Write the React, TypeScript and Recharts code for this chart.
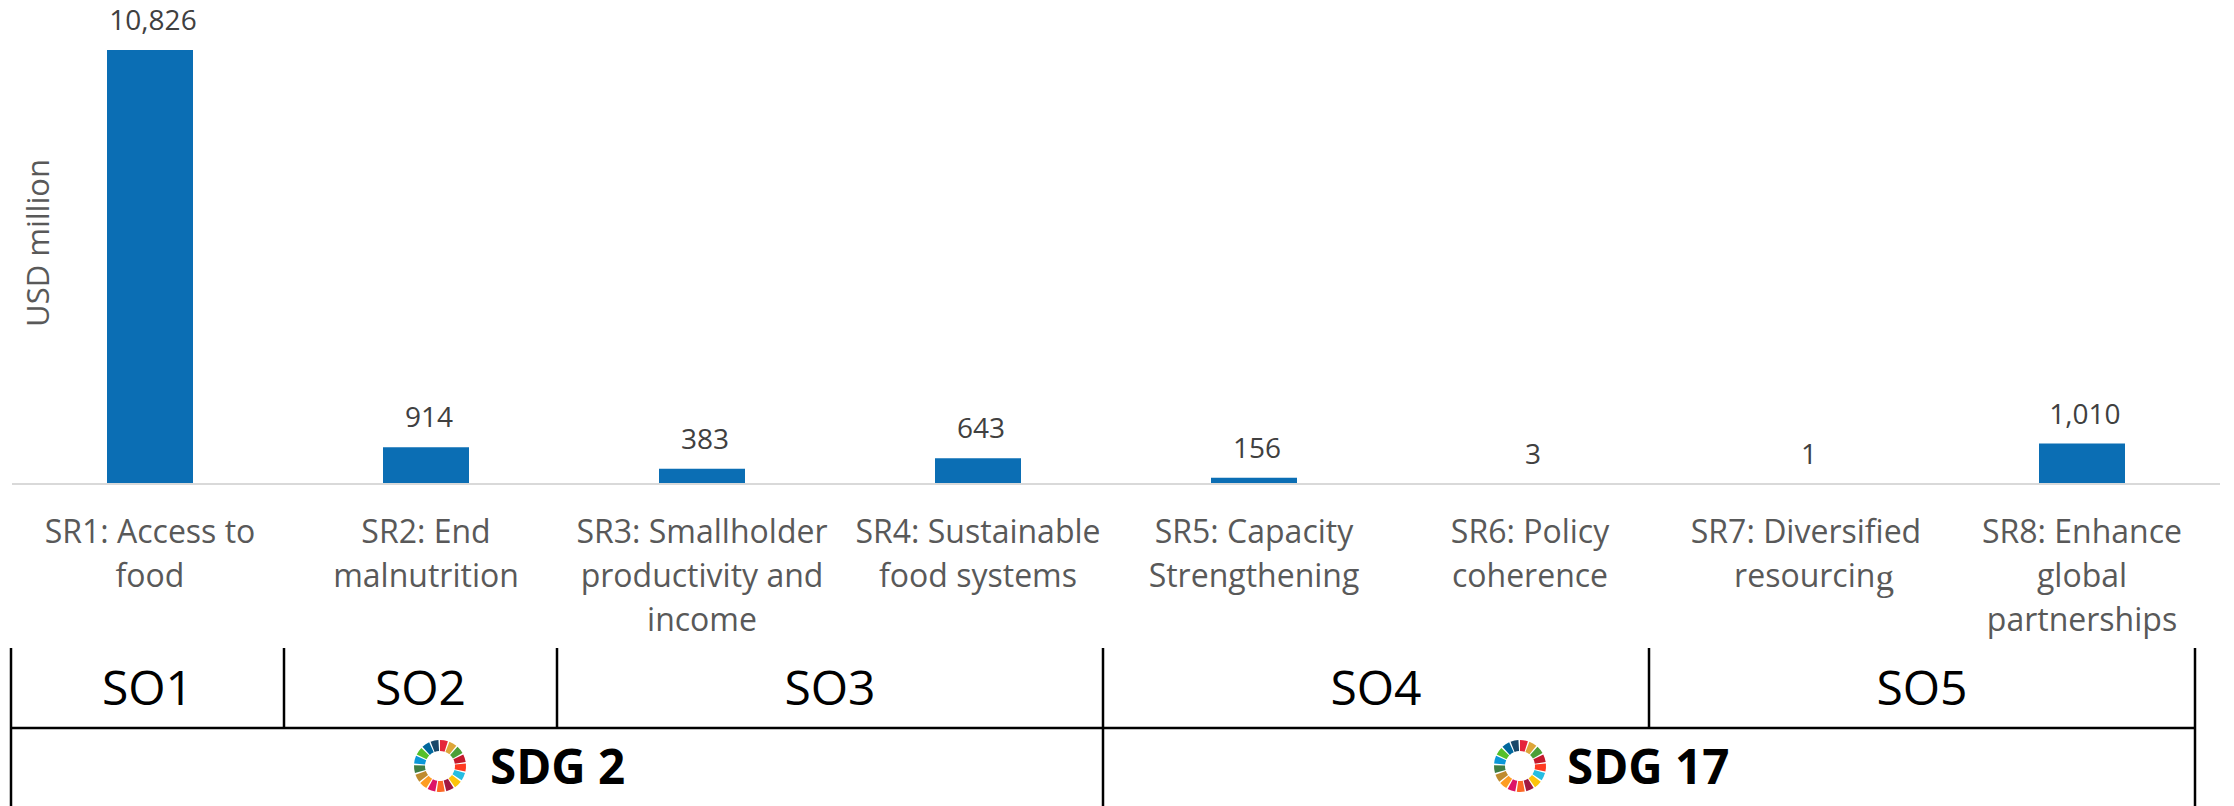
import { Bar, BarChart, Cell, LabelList, Pie, PieChart, XAxis, YAxis } from "recharts";

// Funding by strategic result, USD million
const CATEGORY_LINES = [
  ["SR1: Access to", "food"],
  ["SR2: End", "malnutrition"],
  ["SR3: Smallholder", "productivity and", "income"],
  ["SR4: Sustainable", "food systems"],
  ["SR5: Capacity", "Strengthening"],
  ["SR6: Policy", "coherence"],
  ["SR7: Diversified", "resourcing"],
  ["SR8: Enhance", "global", "partnerships"],
];
const VALUES = [10826, 914, 383, 643, 156, 3, 1, 1010];

// Grouping rows under the axis: label and how many table units each cell spans
const OBJECTIVES = ["SO1", "SO2", "SO3", "SO4", "SO5"];
const OBJECTIVE_SPANS = [1, 1, 2, 2, 2];
const GOALS = ["SDG 2", "SDG 17"];
const GOAL_SPANS = [4, 4];

const WHEEL_COLORS = [
  "#E5243B", "#DDA63A", "#4C9F38", "#C5192D", "#FF3A21", "#26BDE2",
  "#FCC30B", "#A21942", "#FD6925", "#DD1367", "#FD9D24", "#BF8B2E",
  "#3F7E44", "#0A97D9", "#56C02B", "#00689D", "#19486A",
];

const FONT = '"Open Sans", sans-serif';
const WIDTH = 2234;
const HEIGHT = 806;
const TABLE_LEFT = 11;
const TABLE_UNIT = 273;
const ROW_TOP = 648;
const ROW_MID = 728;

const chartData = VALUES.map((value, i) => ({ key: `sr${i + 1}`, value }));
const wheelData = WHEEL_COLORS.map((color) => ({ color, slice: 1 }));

function CategoryTick({ x, y, payload }: any) {
  const lines = CATEGORY_LINES[payload.index] ?? [];
  return (
    <text x={x} y={y} textAnchor="middle" fontFamily={FONT} fontSize={32} fill="#595959">
      {lines.map((line, i) => {
        const lineY = y + 51 + i * 44;
        // the trailing g of "resourcing" is set in a larger serif face
        if (line === "resourcing") {
          return (
            <tspan key={line} x={x + 8} y={lineY}>
              resourcin
              <tspan fontFamily='"Liberation Serif", serif' fontSize={37} dy={3}>
                g
              </tspan>
            </tspan>
          );
        }
        return (
          <tspan key={line} x={x} y={lineY}>
            {line}
          </tspan>
        );
      })}
    </text>
  );
}

function SdgWheel({ left, top }: { left: number; top: number }) {
  return (
    <div style={{ position: "absolute", left, top }}>
      <PieChart width={56} height={56} margin={{ top: 0, right: 0, bottom: 0, left: 0 }}>
        <Pie
          data={wheelData}
          dataKey="slice"
          cx={28}
          cy={28}
          innerRadius={15}
          outerRadius={26}
          startAngle={90}
          endAngle={-270}
          paddingAngle={3.5}
          stroke="none"
          isAnimationActive={false}
        >
          {wheelData.map((d) => (
            <Cell key={d.color} fill={d.color} />
          ))}
        </Pie>
      </PieChart>
    </div>
  );
}

function GroupTable() {
  const lineProps = { stroke: "#000", strokeWidth: 2.5 };
  let cursor = TABLE_LEFT;
  const objectiveCells = OBJECTIVES.map((label, i) => {
    const w = OBJECTIVE_SPANS[i] * TABLE_UNIT;
    const cell = { label, x: cursor, w };
    cursor += w;
    return cell;
  });
  const right = cursor;
  return (
    <svg width={WIDTH} height={HEIGHT} style={{ position: "absolute", left: 0, top: 0 }}>
      <text
        transform="translate(37 243) rotate(-90)"
        dominantBaseline="central"
        textAnchor="middle"
        fontFamily={FONT}
        fontSize={31}
        fill="#595959"
      >
        USD million
      </text>
      <line x1={TABLE_LEFT} x2={right} y1={ROW_MID} y2={ROW_MID} {...lineProps} />
      <line x1={TABLE_LEFT} x2={TABLE_LEFT} y1={ROW_TOP} y2={HEIGHT} {...lineProps} />
      {objectiveCells.map((c) => (
        <g key={c.label}>
          <line x1={c.x + c.w} x2={c.x + c.w} y1={ROW_TOP} y2={ROW_MID} {...lineProps} />
          <text
            x={c.x + c.w / 2}
            y={705}
            textAnchor="middle"
            fontFamily={FONT}
            fontSize={48}
            fill="#000"
          >
            {c.label}
          </text>
        </g>
      ))}
      {GOAL_SPANS.map((span, i) => {
        const x = TABLE_LEFT + GOAL_SPANS.slice(0, i).reduce((a, b) => a + b, 0) * TABLE_UNIT;
        const endX = x + span * TABLE_UNIT;
        return <line key={GOALS[i]} x1={endX} x2={endX} y1={ROW_MID} y2={HEIGHT} {...lineProps} />;
      })}
      <text x={490} y={784} fontFamily={FONT} fontWeight={700} fontSize={47.5} fill="#000">
        {GOALS[0]}
      </text>
      <text x={1567} y={784} fontFamily={FONT} fontWeight={700} fontSize={47.5} fill="#000">
        {GOALS[1]}
      </text>
    </svg>
  );
}

export default function App() {
  return (
    <div style={{ position: "relative", width: WIDTH, height: HEIGHT, background: "#fff" }}>
      <style>{"body{margin:0}"}</style>
      <BarChart
        width={WIDTH}
        height={HEIGHT}
        data={chartData}
        margin={{ top: 3, right: 14, bottom: 0, left: 12 }}
        barCategoryGap={95}
      >
        <XAxis
          dataKey="key"
          height={322}
          interval={0}
          tick={CategoryTick}
          tickLine={false}
          axisLine={{ stroke: "#d9d9d9", strokeWidth: 2 }}
        />
        <YAxis width={0} domain={[0, 12000]} tick={false} tickLine={false} axisLine={false} />
        <Bar dataKey="value" fill="#0b6eb4" isAnimationActive={false}>
          <LabelList
            dataKey="value"
            position="top"
            offset={20}
            dx={3}
            formatter={(v: any) => Number(v).toLocaleString("en-US")}
            fontFamily={FONT}
            fontSize={28}
            fill="#404040"
          />
        </Bar>
      </BarChart>
      <GroupTable />
      <SdgWheel left={412} top={738} />
      <SdgWheel left={1492} top={738} />
    </div>
  );
}
